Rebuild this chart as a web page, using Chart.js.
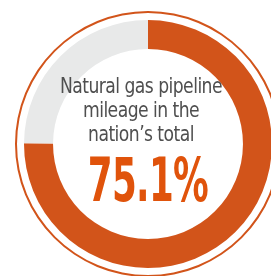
<!DOCTYPE html>
<html lang="en">
<head>
    <meta charset="UTF-8">
    <title>Natural gas pipeline mileage</title>
    <script src="https://cdn.jsdelivr.net/npm/chart.js"></script>
    <style>
        body {
            margin: 0;
            width: 271px;
            height: 276px;
            overflow: hidden;
            background-color: #ffffff;
            position: relative;
        }
        .chart-box {
            position: absolute;
            left: 15px;
            top: 11px;
            width: 266px;
            height: 266px;
        }
        .caption {
            position: absolute;
            left: 31px;
            width: 220px;
            top: 74px;
            text-align: center;
            font-family: "DejaVu Sans Condensed", "Liberation Sans Narrow", sans-serif;
            font-size: 21px;
            line-height: 24px;
            letter-spacing: -0.6px;
            color: #4f4f4f;
            transform: scaleX(0.91);
        }
        .big {
            position: absolute;
            left: 48px;
            width: 200px;
            top: 147px;
            text-align: center;
            font-family: "DejaVu Sans Condensed", "Liberation Sans Narrow", sans-serif;
            font-weight: bold;
            font-size: 60px;
            line-height: 66px;
            letter-spacing: -1px;
            color: #e0530b;
            transform: scaleX(0.66);
        }
    </style>
</head>
<body>
    <div class="chart-box"><canvas id="pieChart"></canvas></div>
    <div class="caption">Natural gas pipeline<br>mileage in the<br>nation’s total</div>
    <div class="big">75.1%</div>

    <script>
        const labels = ['Natural gas pipelines', 'Other pipelines'];
        const shares = [75.1, 24.9];
        const shareColors = ['#d2541a', '#e8e9e9'];
        const totalShare = [100];

        const ctx = document.getElementById('pieChart').getContext('2d');
        new Chart(ctx, {
            type: 'doughnut',
            data: {
                labels: labels,
                datasets: [
                    { data: totalShare, backgroundColor: ['#d2541a'], weight: 2 },
                    { data: totalShare, backgroundColor: ['rgba(0,0,0,0)'], weight: 7 },
                    { data: shares, backgroundColor: shareColors, weight: 29 }
                ]
            },
            options: {
                responsive: true,
                maintainAspectRatio: false,
                animation: false,
                cutout: '71.4%',
                borderWidth: 0,
                hoverOffset: 0,
                plugins: {
                    legend: { display: false },
                    tooltip: { enabled: false }
                }
            }
        });
    </script>
</body>
</html>
